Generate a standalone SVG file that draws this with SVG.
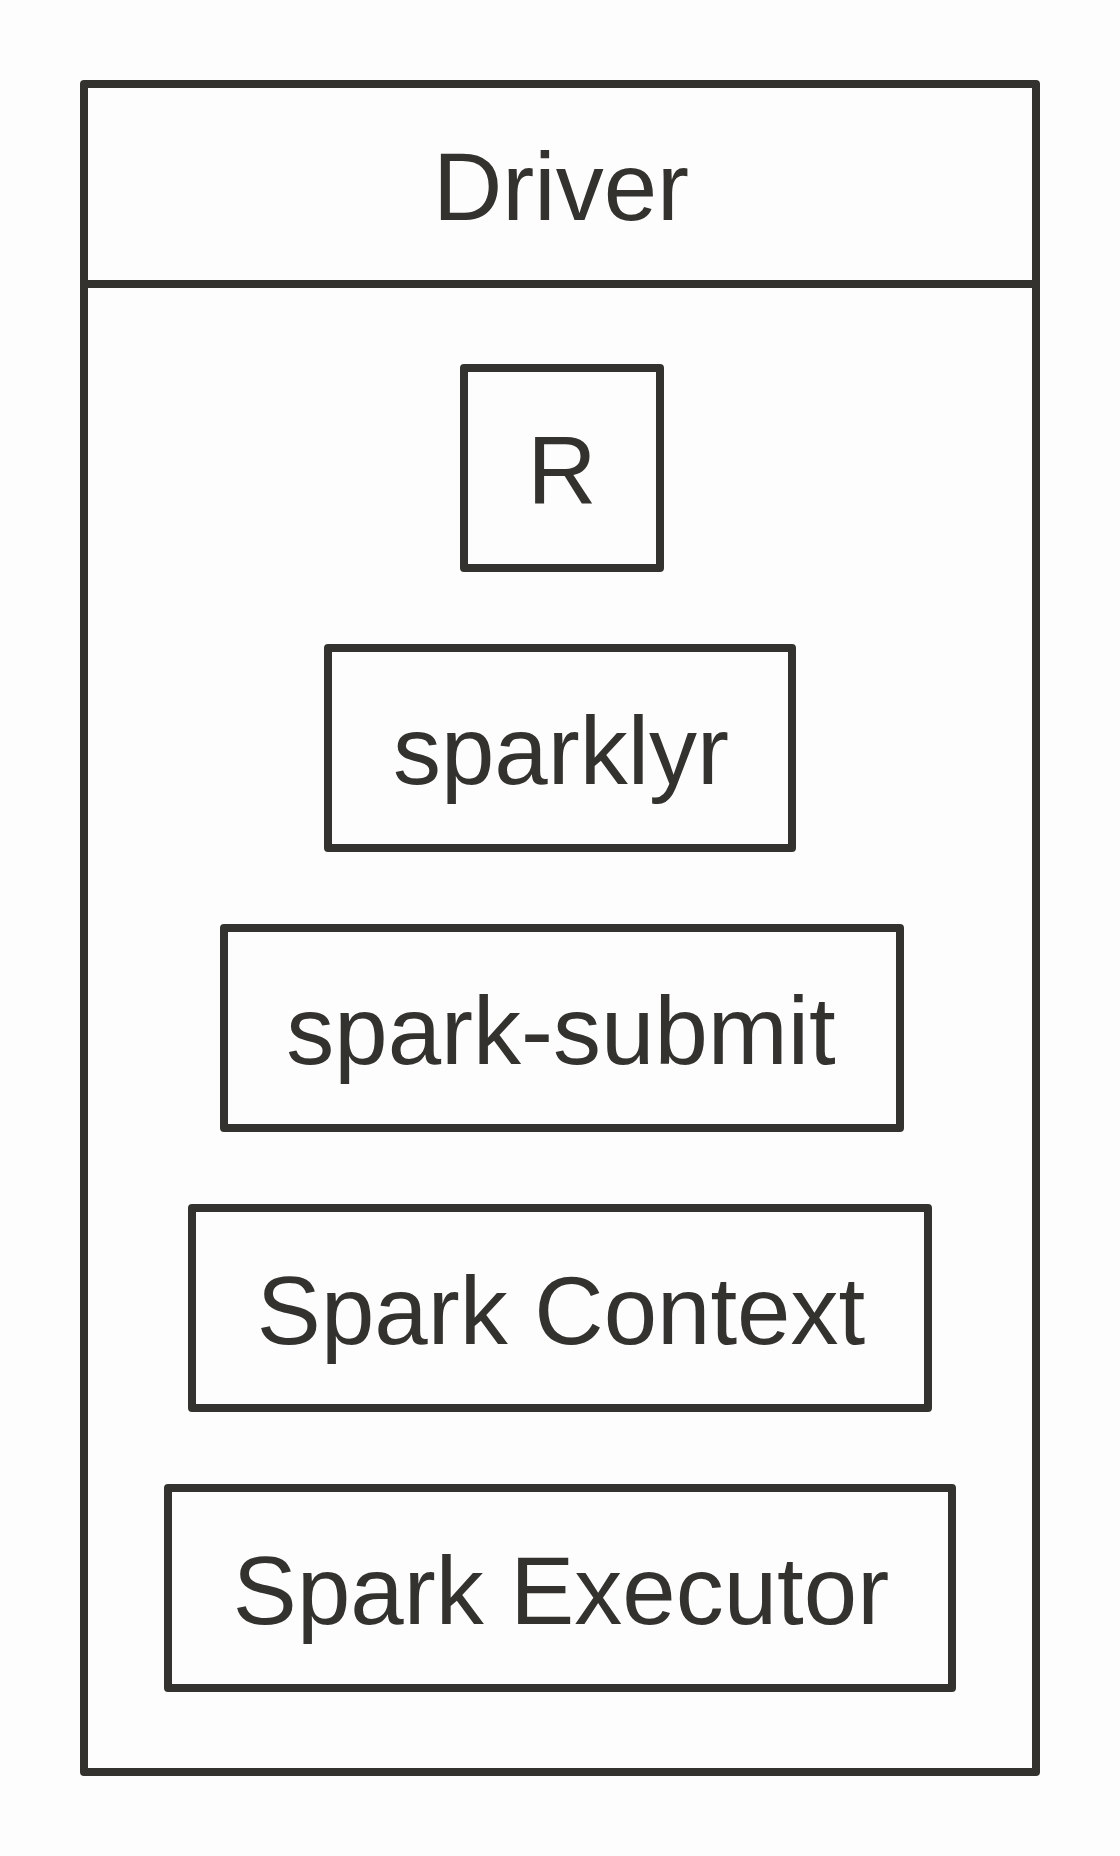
<svg xmlns="http://www.w3.org/2000/svg" width="1120" height="1856" viewBox="0 0 1120 1856">
<style>
.box{fill:none;stroke:#33322e;stroke-width:8;stroke-linejoin:round;stroke-linecap:butt}
.lbl{font-family:"Liberation Sans",Arial,Helvetica,sans-serif;font-size:96px;fill:#33322e;text-anchor:middle}
</style>
<rect x="0" y="0" width="1120" height="1856" fill="#fdfdfd"/>
<g id="driver">
<rect class="box" x="84" y="84" width="952" height="1688"/>
<line class="box" x1="84" y1="284" x2="1036" y2="284"/>
<text class="lbl" x="561" y="220">Driver</text>
</g>
<g id="r">
<rect class="box" x="464" y="368" width="196" height="200"/>
<text class="lbl" x="562" y="504">R</text>
</g>
<g id="sparklyr">
<rect class="box" x="328" y="648" width="464" height="200"/>
<text class="lbl" x="561" y="784">sparklyr</text>
</g>
<g id="spark-submit">
<rect class="box" x="224" y="928" width="676" height="200"/>
<text class="lbl" x="561" y="1064">spark-submit</text>
</g>
<g id="spark-context">
<rect class="box" x="192" y="1208" width="736" height="200"/>
<text class="lbl" x="561" y="1344">Spark Context</text>
</g>
<g id="spark-executor">
<rect class="box" x="168" y="1488" width="784" height="200"/>
<text class="lbl" x="561" y="1624">Spark Executor</text>
</g>
<g id="connectors"></g>
</svg>
